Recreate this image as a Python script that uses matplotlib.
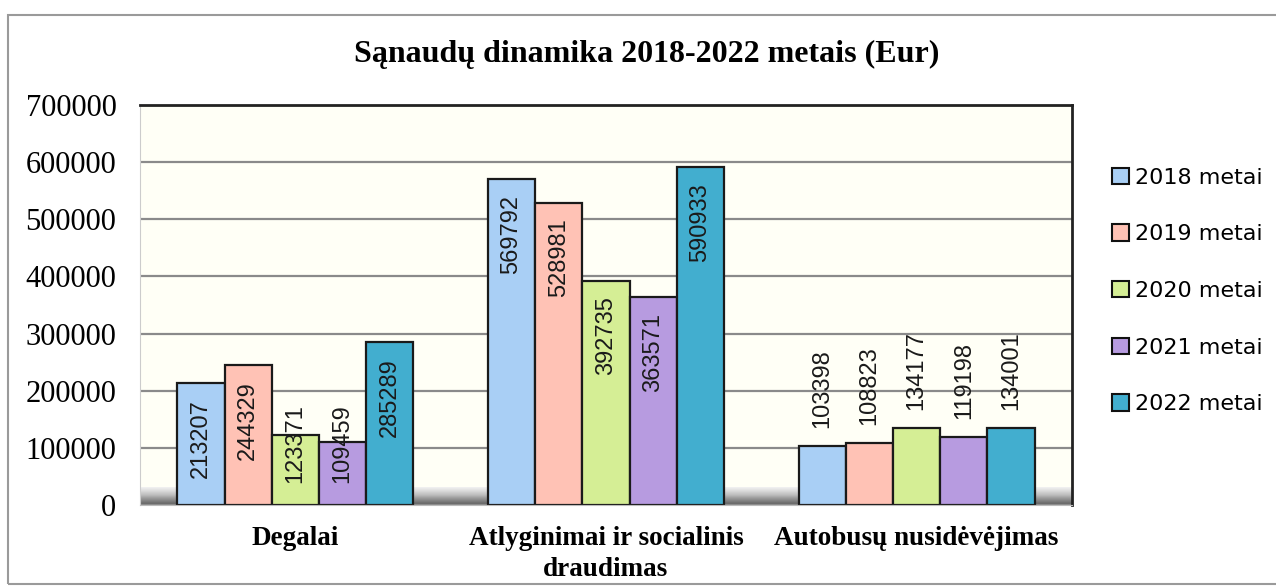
import numpy as np
import matplotlib.pyplot as plt
from matplotlib.patches import Patch, Rectangle

categories = ['Degalai', 'Atlyginimai ir socialinis\ndraudimas', 'Autobusų nusidėvėjimas']
years = ['2018 metai', '2019 metai', '2020 metai', '2021 metai', '2022 metai']
v2018 = [213207, 569792, 103398]
v2019 = [244329, 528981, 108823]
v2020 = [123371, 392735, 134177]
v2021 = [109459, 363571, 119198]
v2022 = [285289, 590933, 134001]
label_mode = ['inside', 'inside', 'outside']

colors = ['#A9CFF5', '#FFC2B5', '#D5EE95', '#B79BE0', '#42AECF']
series = [v2018, v2019, v2020, v2021, v2022]

fig = plt.figure(figsize=(12.76, 5.87), dpi=100)
fig.patches.append(Rectangle((8 / 1276, 0.005), 1, 1 - 15 / 587 - 0.005, transform=fig.transFigure,
                             fill=False, edgecolor='#9a9a9a', linewidth=1.5))

ax = fig.add_axes([140 / 1276, 1 - 505 / 587, (1072 - 140) / 1276, 400 / 587])
ax.set_facecolor('#FFFFF6')

# floor gradient
grad = np.linspace(0, 1, 50).reshape(-1, 1)
ax.imshow(grad, extent=[-0.5, 2.5, 0, 30000], aspect='auto', cmap='Greys', vmin=-0.2, vmax=1.5,
          origin='upper', zorder=0.5)

lbl = dict(rotation=90, ha='center', fontsize=17, fontfamily='Liberation Sans', color='#1a1a1a', zorder=3)

x = np.arange(len(categories))
width = 0.152
for i, (vals, col) in enumerate(zip(series, colors)):
    pos = x + (i - 2) * width
    ax.bar(pos, vals, width, color=col, edgecolor='#1a1a1a', linewidth=1.6, zorder=2, label=years[i])
    for j, v in enumerate(vals):
        if label_mode[j] == 'inside' and v > 200000:
            ax.annotate(str(v), (pos[j], v), xytext=(0, -16), textcoords='offset pixels', va='top', **lbl)
        elif label_mode[j] == 'inside':
            ax.annotate(str(v), (pos[j], 0), xytext=(0, 22), textcoords='offset pixels', va='bottom', **lbl)
        else:
            ax.annotate(str(v), (pos[j], v), xytext=(0, 18), textcoords='offset pixels', va='bottom', **lbl)

ax.set_xlim(-0.5, 2.5)
ax.set_ylim(0, 700000)
ax.set_yticks(range(0, 700001, 100000))
ax.yaxis.grid(True, color='#8a8a8a', linewidth=1.6, zorder=1)
ax.set_axisbelow(True)
ax.tick_params(axis='y', length=0, pad=17, labelsize=22)
ax.tick_params(axis='x', length=0, pad=15)
for lab in ax.get_yticklabels():
    lab.set_fontfamily('Liberation Serif')
ax.set_xticks(x)
ax.set_xticklabels(categories, fontfamily='Liberation Serif', fontweight='bold', fontsize=19.5,
                   linespacing=1.3)
for s in ['top', 'right']:
    ax.spines[s].set_color('#222222')
    ax.spines[s].set_linewidth(2)
ax.spines['left'].set_color('#cccccc')
ax.spines['bottom'].set_color('#bbbbbb')

fig.text(647 / 1276, 1 - 54 / 587, 'Sąnaudų dinamika 2018-2022 metais (Eur)', ha='center', va='center',
         fontfamily='Liberation Serif', fontweight='bold', fontsize=23)

handles = [Patch(facecolor=c, edgecolor='#111111', linewidth=1.5) for c in colors]
fig.legend(handles, years, loc='center left', bbox_to_anchor=(1092 / 1276, 1 - 291 / 587),
           frameon=False, fontsize=16, handlelength=0.75, handleheight=0.75, handletextpad=0.3,
           labelspacing=1.65)

fig.savefig('out.png', dpi=100)
